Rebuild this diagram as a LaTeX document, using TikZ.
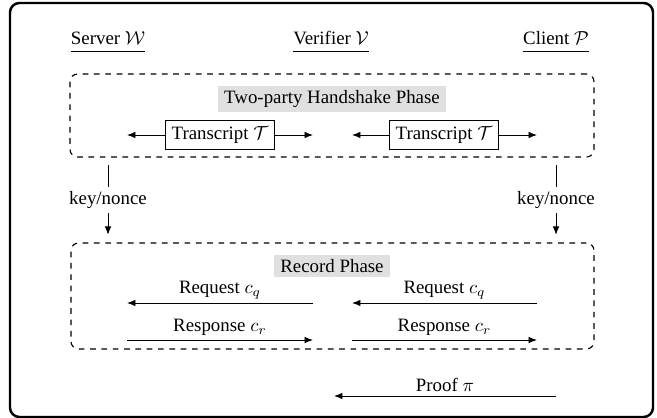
\documentclass[tikz,border=0pt]{standalone}
\usepackage{fontspec}
\setmainfont{Liberation Serif}
\usetikzlibrary{arrows.meta,fit}
\begin{document}
\begin{tikzpicture}[x=0.53pt,y=-0.53pt]
	\tikzset{
		party/.style={anchor=base,inner xsep=0pt,inner ysep=3pt},
		phase/.style={draw,dashed,line width=0.6pt,rounded corners=4pt,inner sep=0pt},
		phase title/.style={fill=black!12,inner xsep=3.5pt,inner ysep=2.5pt},
		transcript/.style={draw,line width=0.5pt,inner sep=3.3pt},
		msg/.style={line width=0.5pt,-{Latex[length=4.5pt,width=3.5pt]}},
		msg label/.style={above,inner sep=2pt},
		key label/.style={fill=white,inner sep=2.5pt}
	}
	\useasboundingbox (0,0) rectangle (657,418);
	\draw[line width=1.3pt,rounded corners=5pt] (10,3) rectangle (653,417);
	% parties
	\node[party] (W) at (108,45) {Server $\mathcal{W}$};
	\node[party] (V) at (331,45) {Verifier $\mathcal{V}$};
	\node[party] (P) at (556,45) {Client $\mathcal{P}$};
	\foreach \p in {W,V,P}
		\draw[line width=0.5pt] (\p.south west) -- (\p.south east);
	% handshake
	\node[phase,fit={(70,74) (594,157)}] (hs) {};
	\node[phase title] (hsT) at (332,99) {Two-party Handshake Phase};
	\node[transcript] (t1) at (220,135) {Transcript $\mathcal{T}$};
	\node[transcript] (t2) at (444,135) {Transcript $\mathcal{T}$};
	\path
	(127,135) coordinate (t1l)
	(313,135) coordinate (t1r)
	(352,135) coordinate (t2l)
	(537,135) coordinate (t2r);
	\draw[msg] (t1) -- (t1l);
	\draw[msg] (t1) -- (t1r);
	\draw[msg] (t2) -- (t2l);
	\draw[msg] (t2) -- (t2r);
	% record
	\node[phase,fit={(71,243) (594,349)}] (rec) {};
	\node[phase title] (recT) at (332,266) {Record Phase};
	\foreach \p in {W,P}
		\draw[msg,shorten <=4pt,shorten >=4pt] (hs.south -| \p) -- node[key label] {key/nonce} (rec.north -| \p);
	\foreach \l/\r/\n in {127/313/L,352/537/R}{
		\path
		(\l,303) coordinate (q\n l)
		(\r,303) coordinate (q\n r)
		(\l,340) coordinate (r\n l)
		(\r,340) coordinate (r\n r);
		\draw[msg] (q\n r) -- node[msg label] {Request $c_q$} (q\n l);
		\draw[msg] (r\n l) -- node[msg label] {Response $c_r$} (r\n r);
	}
	% proof
	\path
	(556,396) coordinate (pP)
	(334,396) coordinate (pV);
	\draw[msg] (pP) -- node[msg label] {Proof $\pi$} (pV);
\end{tikzpicture}
\end{document}
